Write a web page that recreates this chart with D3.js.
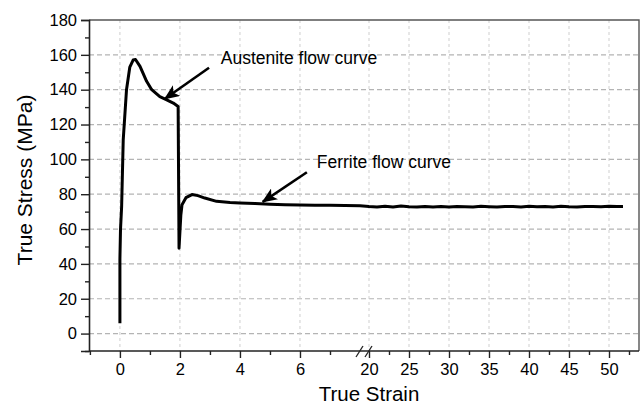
<!DOCTYPE html>
<html>
<head>
<meta charset="utf-8">
<script src="https://cdn.jsdelivr.net/npm/d3@7"></script>
<style>
  body { margin: 0; background: #fff; }
  svg { display: block; font-family: "Liberation Sans", Arial, sans-serif; }
  .tick text { font-size: 16.5px; fill: #000; }
  .axis line { stroke: #222; stroke-width: 1.4; }
</style>
</head>
<body>
<script>
// Flow curve: strain below the break (0-8)
var strainLow = [0, 0.0, 0.02, 0.057, 0.11, 0.22, 0.33, 0.44, 0.52, 0.67, 0.89, 1.06,
                 1.33, 1.56, 1.78, 1.94, 1.97, 2.03, 2.07, 2.2, 2.4, 2.6, 2.83, 3.22,
                 3.67, 4, 4.5, 5, 5.5, 6, 6.5, 7, 7.5, 8];
var stressLow = [6, 43, 60, 72.8, 111, 140, 153, 157, 157.3, 153.4, 144.8, 140,
                 136, 134.2, 132.3, 130.4, 49, 68, 74, 78, 79.8, 79.2, 77.8, 75.9,
                 75.3, 75, 74.6, 74.3, 74, 73.8, 73.7, 73.6, 73.5, 73.4];
// strain above the break (20-52)
var strainHigh = [20, 21, 22, 23, 24, 25, 26, 27, 28, 29, 30, 31, 32, 33, 34, 35, 36,
                  37, 38, 39, 40, 41, 42, 43, 44, 45, 46, 47, 48, 49, 50, 51, 51.75];
var stressHigh = [72.9, 72.7, 73.1, 72.6, 73.2, 72.8, 72.6, 73.0, 72.7, 72.9, 72.6, 73.0,
                  72.8, 72.7, 73.1, 72.8, 72.6, 73.0, 72.9, 72.7, 73.1, 72.8, 72.9, 72.7,
                  73.1, 72.8, 72.7, 73.0, 72.9, 72.8, 73.1, 72.9, 73.0];

var yTicks = [0, 20, 40, 60, 80, 100, 120, 140, 160, 180];
var yMinor = [-10, 10, 30, 50, 70, 90, 110, 130, 150, 170];
var xTicksLow = [0, 2, 4, 6];
var xMinorLow = [-1, 1, 3, 5, 7];
var xTicksHigh = [20, 25, 30, 35, 40, 45, 50];
var xMinorHigh = [22.5, 27.5, 32.5, 37.5, 42.5, 47.5, 52.5];

// annotations: [label, text strain, text stress, tail strain, tail stress, tip strain, tip stress]
var notes = [["Austenite flow curve", 3.36, 155, 2.97, 152.6, 1.5, 134.8],
             ["Ferrite flow curve", 6.56, 94.9, 6.23, 92.6, 4.76, 75.6]];

window.onload = function() {
  drawChart();
};

function drawChart() {
  var width = 640;
  var height = 405;
  var left = 89;
  var right = 639;
  var top = 20;
  var bottom = 351;

  var svg = d3.select("body")
              .append("svg")
              .attr("width", width)
              .attr("height", height);

  // broken x-axis: two linear pieces
  var xLow = d3.scaleLinear().domain([-1.03, 8]).range([left, 360]);
  var xHigh = d3.scaleLinear().domain([20, 53.75]).range([369, right]);
  var x = function(s) {
    return s <= 8 ? xLow(s) : xHigh(s);
  };
  var y = d3.scaleLinear().domain([-10, 180]).range([bottom, top]);

  // Gridlines
  svg.append("g")
     .selectAll("line")
     .data(yTicks.slice(0, -1))
     .enter()
     .append("line")
     .attr("x1", left)
     .attr("x2", right)
     .attr("y1", function(d) { return y(d); })
     .attr("y2", function(d) { return y(d); })
     .attr("stroke", "#b4b4b4")
     .attr("stroke-width", 1.2)
     .attr("stroke-dasharray", "5,3");

  var vGrid = xTicksLow.map(xLow).concat(xTicksHigh.map(xHigh));
  svg.append("g")
     .selectAll("line")
     .data(vGrid)
     .enter()
     .append("line")
     .attr("x1", function(d) { return d; })
     .attr("x2", function(d) { return d; })
     .attr("y1", top)
     .attr("y2", bottom)
     .attr("stroke", "#cfcfcf")
     .attr("stroke-width", 1)
     .attr("stroke-dasharray", "3,3");

  // Curve
  var pts = [];
  for (var i = 0; i < strainLow.length; i++) {
    pts.push([strainLow[i], stressLow[i]]);
  }
  for (var j = 0; j < strainHigh.length; j++) {
    pts.push([strainHigh[j], stressHigh[j]]);
  }
  var line = d3.line()
               .x(function(d) { return x(d[0]); })
               .y(function(d) { return y(d[1]); });
  svg.append("path")
     .datum(pts)
     .attr("d", line)
     .attr("fill", "none")
     .attr("stroke", "#000")
     .attr("stroke-width", 3)
     .attr("stroke-linejoin", "round");

  // Frame
  svg.append("path")
     .attr("d", "M" + left + "," + top + "H" + right + "V" + bottom)
     .attr("fill", "none")
     .attr("stroke", "#555")
     .attr("stroke-width", 1.4);

  // Y axis
  var yAxis = svg.append("g")
                 .attr("class", "axis")
                 .attr("transform", "translate(" + left + ",0)")
                 .call(d3.axisLeft(y).tickValues(yTicks).tickSize(8).tickPadding(4));
  svg.append("g")
     .attr("class", "axis")
     .attr("transform", "translate(" + left + ",0)")
     .call(d3.axisLeft(y).tickValues(yMinor).tickSize(4).tickFormat(""))
     .select(".domain").remove();
  yAxis.select(".domain").attr("stroke", "#222").attr("stroke-width", 1.6);

  // X axis (two pieces + full base line)
  var xa = svg.append("g").attr("class", "axis").attr("transform", "translate(0," + bottom + ")");
  xa.append("g").call(d3.axisBottom(xLow).tickValues(xTicksLow).tickSize(7).tickPadding(5));
  xa.append("g").call(d3.axisBottom(xLow).tickValues(xMinorLow).tickSize(4).tickFormat(""));
  xa.append("g").call(d3.axisBottom(xHigh).tickValues(xTicksHigh).tickSize(7).tickPadding(5));
  xa.append("g").call(d3.axisBottom(xHigh).tickValues(xMinorHigh).tickSize(4).tickFormat(""));
  xa.selectAll(".domain").remove();
  xa.append("line")
    .attr("x1", left)
    .attr("x2", right)
    .attr("stroke", "#222")
    .attr("stroke-width", 1.6);

  // Break marks
  [xLow(8), xHigh(20)].forEach(function(bx) {
    svg.append("line")
       .attr("x1", bx - 4)
       .attr("y1", bottom + 6)
       .attr("x2", bx + 3)
       .attr("y2", bottom - 5)
       .attr("stroke", "#222")
       .attr("stroke-width", 1.3);
  });

  // Axis titles
  svg.append("text")
     .text("True Strain")
     .attr("x", xHigh(20))
     .attr("y", 401)
     .attr("text-anchor", "middle")
     .attr("font-size", "20.5px")
     .attr("fill", "#000");
  svg.append("text")
     .text("True Stress (MPa)")
     .attr("transform", "translate(32," + 180 + ") rotate(-90)")
     .attr("text-anchor", "middle")
     .attr("font-size", "21px")
     .attr("fill", "#000");

  // Annotations with arrows
  svg.append("defs")
     .append("marker")
     .attr("id", "head")
     .attr("viewBox", "0 0 12 10")
     .attr("refX", 11)
     .attr("refY", 5)
     .attr("markerWidth", 6)
     .attr("markerHeight", 5)
     .attr("orient", "auto")
     .append("path")
     .attr("d", "M0,0L12,5L0,10L3,5z")
     .attr("fill", "#000");

  notes.forEach(function(n) {
    svg.append("text")
       .text(n[0])
       .attr("x", xLow(n[1]))
       .attr("y", y(n[2]))
       .attr("font-size", "17.5px")
       .attr("fill", "#000");
    svg.append("line")
       .attr("x1", xLow(n[3]))
       .attr("y1", y(n[4]))
       .attr("x2", xLow(n[5]))
       .attr("y2", y(n[6]))
       .attr("stroke", "#000")
       .attr("stroke-width", 2.6)
       .attr("marker-end", "url(#head)");
  });
};
</script>
</body>
</html>
